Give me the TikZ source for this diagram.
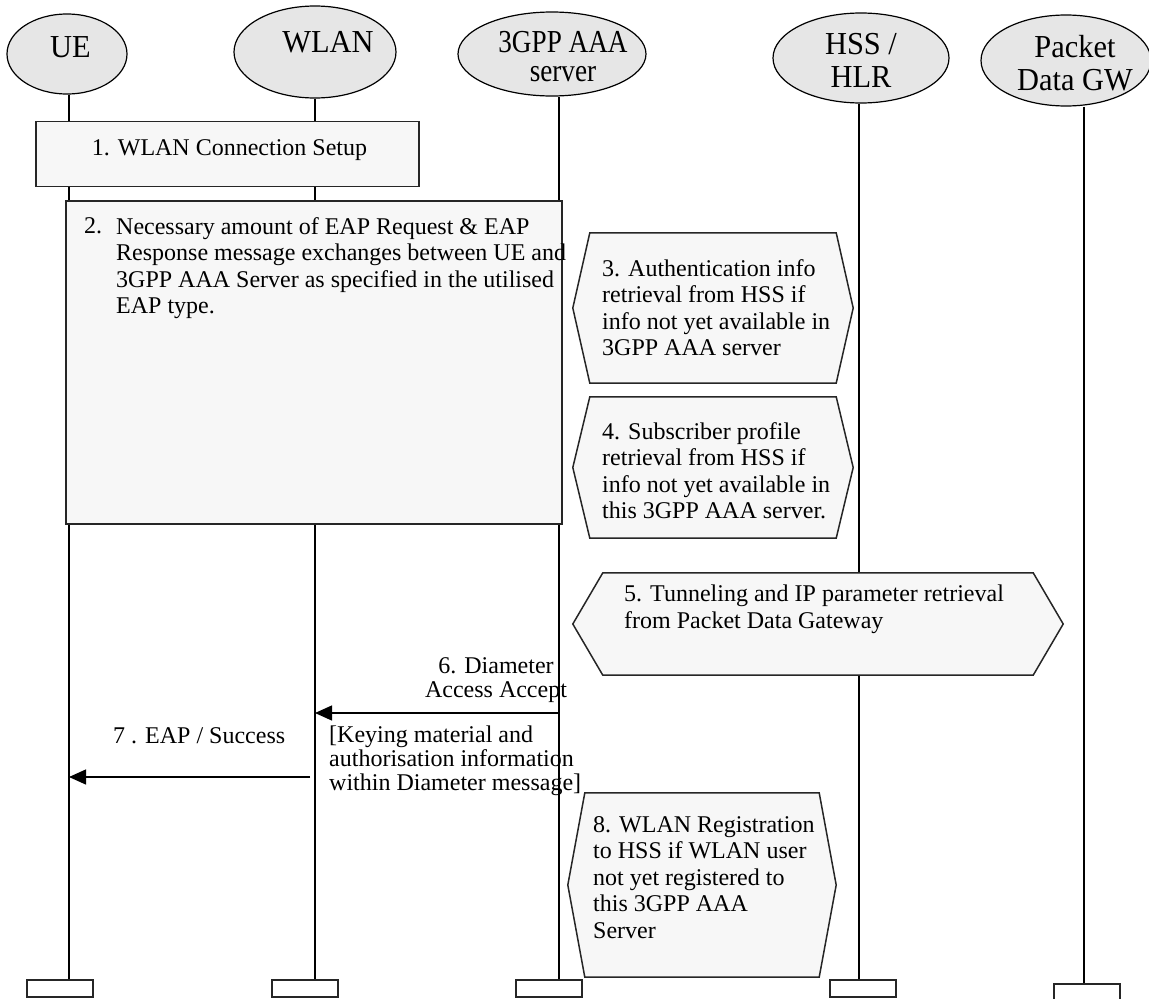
\documentclass[tikz,border=0pt]{standalone}
\usepackage{fontspec}
\setmainfont{Liberation Serif}
\newfontfamily\ellfont[FakeStretch=0.95]{Liberation Serif}
\newfontfamily\ellfontn[FakeStretch=0.85]{Liberation Serif}
\usetikzlibrary{arrows.meta,shapes.geometric}
\definecolor{ellgray}{HTML}{E6E6E6}
\definecolor{boxgray}{HTML}{F7F7F7}
\newcommand{\hexdraw}[2]{%
  \filldraw[hexline] ([xshift=#2]#1.north west) -- ([xshift=-#2]#1.north east) -- (#1.east)
    -- ([xshift=-#2]#1.south east) -- ([xshift=#2]#1.south west) -- (#1.west) -- cycle;}
\begin{document}
\begin{tikzpicture}[x=1pt,y=-1pt,
  actor/.style={ellipse, draw=black, line width=1.2pt, fill=ellgray, inner sep=0pt},
  elltext/.style={font=\fontsize{32}{33}\ellfont, inner sep=0pt, align=center},
  endbox/.style={rectangle, draw=black!85, line width=1.5pt, fill=white, minimum width=66, minimum height=17, inner sep=0pt},
  stepbox/.style={rectangle, draw=black!85, line width=1.5pt, fill=boxgray, inner sep=0pt},
  hexarea/.style={rectangle, draw=none, inner sep=0pt},
  hexline/.style={draw=black!85, line width=1.5pt, fill=boxgray, line join=miter},
  life/.style={draw=black, line width=1.2pt},
  msg/.style={draw=black, line width=1.3pt, -{Triangle[length=17pt,width=15pt]}},
  body/.style={font=\fontsize{24}{26.5}\selectfont, inner sep=0pt, align=left, anchor=north west},
  lbl/.style={font=\fontsize{24}{24}\selectfont, inner sep=0pt}]
\useasboundingbox (0,0) rectangle (1149,999);

% lifeline x positions
\coordinate (ueX) at (69,0);
\coordinate (wlanX) at (315,0);
\coordinate (aaaX) at (559,0);
\coordinate (hssX) at (859,0);
\coordinate (pdgX) at (1084,0);

% actors
\node[actor, minimum width=120, minimum height=80] (ue) at (67,54) {};
\node[actor, minimum width=162, minimum height=92] (wlan) at (315,52) {};
\node[actor, minimum width=188, minimum height=84] (aaa) at (552,54) {};
\node[actor, minimum width=176, minimum height=90] (hss) at (861,58) {};
\node[actor, minimum width=170, minimum height=91] (pdg) at (1066,60.5) {};

\node[elltext] (ueT) at (70.5,47.5) {UE};
\node[elltext] (wlanT) at (328,42.5) {WLAN};
\node[elltext, font=\fontsize{32}{29}\ellfontn] (aaaT) at (563,57) {3GPP AAA\\server};
\node[elltext] (hssT) at (861,60) {HSS /\\HLR};
\node[elltext] (pdgT) at (1075,63) {Packet\\Data GW};

% end boxes
\node[endbox] (ueB) at (60,988.5) {};
\node[endbox] (wlanB) at (305,988.5) {};
\node[endbox] (aaaB) at (549,988.5) {};
\node[endbox] (hssB) at (863,988.5) {};
\node[endbox] (pdgB) at (1087,992.5) {};

% lifelines
\draw[life] (ueX |- ue.south) -- (ueX |- ueB.north);
\draw[life] (wlanX |- wlan.south) -- (wlanX |- wlanB.north);
\draw[life] (aaaX |- aaa.south) -- (aaaX |- aaaB.north);
\draw[life] (hssX |- hss.south) -- (hssX |- hssB.north);
\draw[life] (pdgX |- pdg.south) -- (pdgX |- pdgB.north);

% step boxes
\node[stepbox, minimum width=383, minimum height=65] (b1) at (227.5,154) {};
\node[body, anchor=base] (b1t) at (229.5,155) {1. WLAN Connection Setup};
\node[stepbox, minimum width=496, minimum height=323] (b2) at (314,362.5) {};
\node[body] (b2n) at (84,217) {2.};
\node[body] (b2t) at (116,217) {Necessary amount of EAP Request \& EAP\\Response message exchanges between UE and\\3GPP AAA Server as specified in the utilised\\EAP type.};

% hexagons
\node[hexarea, minimum width=280, minimum height=150] (h3) at (713,308) {};
\hexdraw{h3}{17}
\node[body] (h3t) at (602,259) {3. Authentication info\\retrieval from HSS if\\info not yet available in\\3GPP AAA server};

\node[hexarea, minimum width=280, minimum height=141] (h4) at (713,467.5) {};
\hexdraw{h4}{17}
\node[body] (h4t) at (602,422) {4. Subscriber profile\\retrieval from HSS if\\info not yet available in\\this 3GPP AAA server.};

\node[hexarea, minimum width=490, minimum height=102] (h5) at (818,624) {};
\hexdraw{h5}{30}
\node[body] (h5t) at (624,585) {5. Tunneling and IP parameter retrieval\\from Packet Data Gateway};

\node[hexarea, minimum width=268, minimum height=184] (h8) at (702,885) {};
\hexdraw{h8}{17}
\node[body] (h8t) at (593,816) {8. WLAN Registration\\to HSS if WLAN user\\not yet registered to\\this 3GPP AAA\\Server};

% messages
\coordinate (m6a) at (aaaX |- 0,713);
\coordinate (m6b) at (wlanX |- 0,713);
\draw[msg] (m6a) -- (m6b);
\coordinate (m7a) at (310,777);
\coordinate (m7b) at (ueX |- 0,777);
\draw[msg] (m7a) -- (m7b);

\node[lbl, align=center, anchor=north] (l6) at (496,657) {6. Diameter\\Access Accept};
\node[lbl, anchor=north west] (l7) at (113,727) {7 . EAP / Success};
\node[lbl, align=left, anchor=north west] (l6b) at (329,726) {[Keying material and\\authorisation information\\within Diameter message]};
\end{tikzpicture}
\end{document}
